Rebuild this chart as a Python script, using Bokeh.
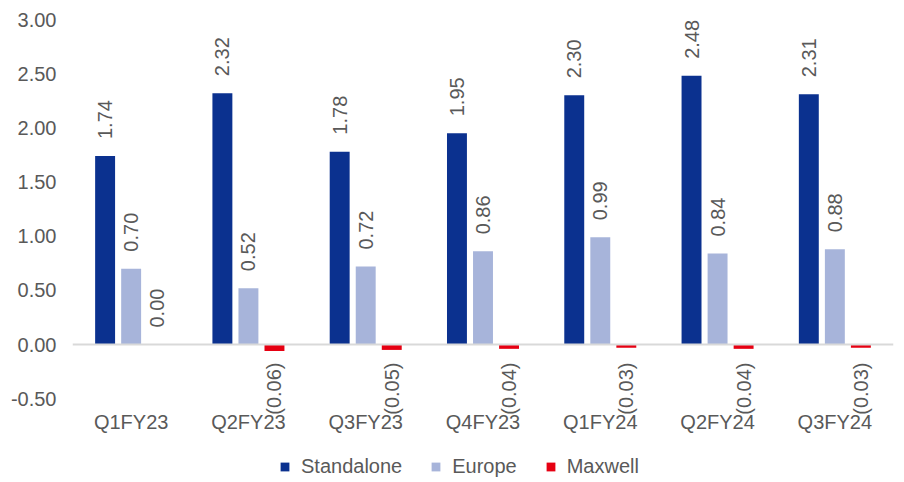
import math
from bokeh.plotting import figure
from bokeh.models import (FactorRange, Range1d, ColumnDataSource, LabelSet, Span,
                          FixedTicker, NumeralTickFormatter, Legend, LegendItem)
from bokeh.core.properties import value
from bokeh.transform import dodge
from bokeh.embed import file_html
from bokeh.resources import INLINE

categories = ["Q1FY23", "Q2FY23", "Q3FY23", "Q4FY23", "Q1FY24", "Q2FY24", "Q3FY24"]
standalone = [1.74, 2.32, 1.78, 1.95, 2.30, 2.48, 2.31]
europe = [0.70, 0.52, 0.72, 0.86, 0.99, 0.84, 0.88]
maxwell = [0.00, -0.06, -0.05, -0.04, -0.03, -0.04, -0.03]
series_names = ["Standalone", "Europe", "Maxwell"]
y_ticks = [-0.5, 0.0, 0.5, 1.0, 1.5, 2.0, 2.5, 3.0]

colors = ["#0B318F", "#A7B4DA", "#E60012"]
offsets = [-0.222, 0.0, 0.222]
FONT = "Liberation Sans"
FS = "20px"
GREY = "#595959"

# vertical scale: 3.0 at 19px, 0 at 344px -> frame extends to canvas bottom
PX_PER_UNIT = 325 / 3.0
Y_START = -(482 - 344) / PX_PER_UNIT


def fmt(v):
    return f"({abs(v):.2f})" if v < 0 else f"{v:.2f}"


p = figure(width=904, height=482, x_range=FactorRange(*categories),
           y_range=Range1d(Y_START, 3.0), output_backend="svg", toolbar_location=None,
           min_border_left=72, min_border_right=11, min_border_top=19, min_border_bottom=0)
p.outline_line_color = None
p.xgrid.visible = False
p.ygrid.visible = False
p.x_range.range_padding = 0
p.x_range.group_padding = 0

p.yaxis.ticker = FixedTicker(ticks=y_ticks)
p.yaxis.formatter = NumeralTickFormatter(format="0.00")
p.yaxis.axis_line_color = None
p.yaxis.major_tick_line_color = None
p.yaxis.minor_tick_line_color = None
p.yaxis.major_label_text_font = FONT
p.yaxis.major_label_text_font_size = FS
p.yaxis.major_label_text_color = GREY
p.yaxis.major_label_standoff = 10

p.xaxis.fixed_location = -0.5
p.xaxis.axis_line_color = None
p.xaxis.major_tick_line_color = None
p.xaxis.minor_tick_line_color = None
p.xaxis.major_label_text_font = FONT
p.xaxis.major_label_text_font_size = FS
p.xaxis.major_label_text_color = GREY
p.xaxis.major_label_standoff = 6

p.add_layout(Span(location=0, dimension="width", line_color="#D9D9D9", line_width=2))

items = []
for name, vals, col, off in zip(series_names, [standalone, europe, maxwell], colors, offsets):
    src = ColumnDataSource(dict(cat=categories, val=vals))
    r = p.vbar(x=dodge("cat", off, range=p.x_range), top="val", bottom=0, width=0.17,
               source=src, fill_color=col, line_color=None)
    items.append(LegendItem(label=name, renderers=[r]))
    pos = [(c, v) for c, v in zip(categories, vals) if v >= 0]
    neg = [(c, v) for c, v in zip(categories, vals) if v < 0]
    if pos:
        ps = ColumnDataSource(dict(cat=[c for c, _ in pos], val=[v for _, v in pos],
                                   lab=[fmt(v) for _, v in pos]))
        p.add_layout(LabelSet(x=dodge("cat", off, range=p.x_range), y="val", text="lab",
                              source=ps, angle=math.pi / 2, text_align="left",
                              text_baseline="middle", y_offset=17, text_font=value(FONT),
                              text_font_size=value(FS), text_color=GREY))
    if neg:
        ns = ColumnDataSource(dict(cat=[c for c, _ in neg], zero=[0.0] * len(neg),
                                   lab=[fmt(v) for _, v in neg]))
        p.add_layout(LabelSet(x=dodge("cat", off, range=p.x_range), y="zero", text="lab",
                              source=ns, angle=math.pi / 2, text_align="right",
                              text_baseline="middle", y_offset=-18, text_font=value(FONT),
                              text_font_size=value(FS), text_color=GREY))

legend = Legend(items=items, orientation="horizontal", location=(207, 4),
                glyph_width=11, glyph_height=11, label_standoff=11, spacing=28,
                label_text_font=FONT, label_text_font_size=FS, label_text_color=GREY,
                border_line_color=None, background_fill_alpha=0, padding=0, margin=0)
p.add_layout(legend)

open("out.html", "w").write(file_html(p, INLINE))
